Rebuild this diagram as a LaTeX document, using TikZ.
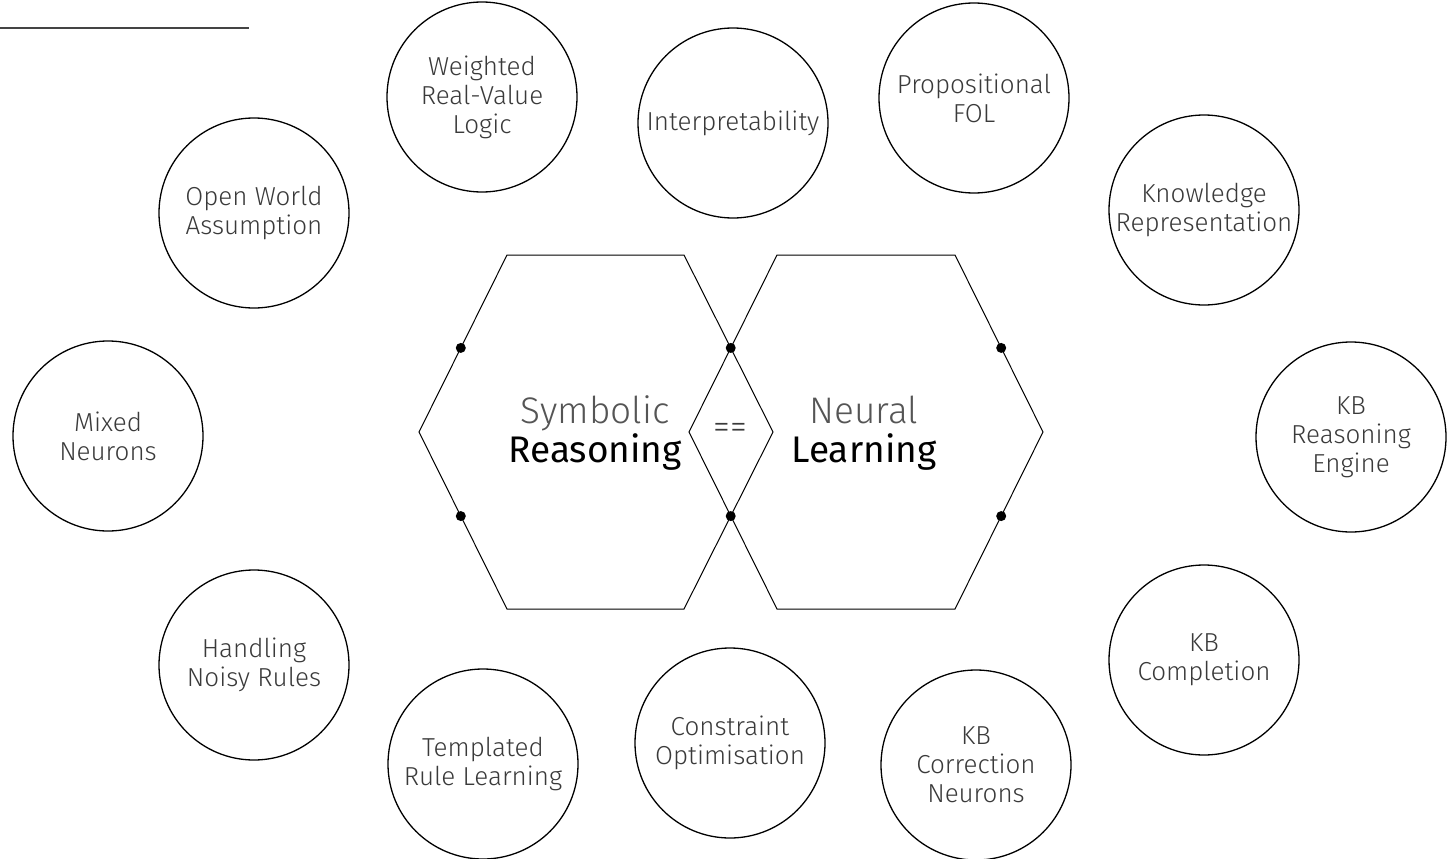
\documentclass[tikz,border=0pt]{standalone}
\usepackage{fontspec}
\IfFontExistsTF{Fira Sans Light}{%
  \setmainfont{Fira Sans Light}}{%
  \IfFontExistsTF{Lato Light}{\setmainfont{Lato Light}}{%
    \IfFontExistsTF{Open Sans Light}{\setmainfont{Open Sans Light}}{\setmainfont{Fira Sans}}}}
\newfontfamily\regface{Fira Sans}
\usetikzlibrary{calc}
\definecolor{txtgray}{HTML}{3A3A3A}
\definecolor{lightgray}{HTML}{555555}
\definecolor{rulegray}{HTML}{444444}
\begin{document}
\begin{tikzpicture}[x=1pt,y=-1pt,
  bubble/.style={draw, circle, line width=1.3pt, minimum size=190pt, inner sep=0pt,
    align=center, text=txtgray, font=\fontsize{26}{29}\selectfont},
  hexline/.style={line width=1pt, line join=miter},
  dotmark/.style={circle, fill=black, inner sep=0pt, minimum size=10pt},
  bigthin/.style={anchor=base, text=lightgray, font=\fontsize{37}{39}\selectfont, inner sep=0pt},
  bigreg/.style={anchor=base, text=black, font=\fontsize{37}{39}\regface, inner sep=0pt},
  eqtext/.style={text=txtgray, font=\fontsize{34}{36}\selectfont, inner sep=0pt}]
\useasboundingbox (0,0) rectangle (1449,859);
\fill[white] (0,0) rectangle (1449,859);

% top-left rule
\coordinate (r1) at (0,28);
\coordinate (r2) at (249,28);
\draw[line width=2pt, rulegray] (r1) -- (r2);

% left hexagon
\coordinate (A1) at (419,432);
\coordinate (A2) at (507,255);
\coordinate (A3) at (684,255);
\coordinate (A4) at (773,432);
\coordinate (A5) at (684,609);
\coordinate (A6) at (507,609);
% right hexagon
\coordinate (B1) at (689,432);
\coordinate (B2) at (777,255);
\coordinate (B3) at (955,255);
\coordinate (B4) at (1043,432);
\coordinate (B5) at (955,609);
\coordinate (B6) at (777,609);

\draw[hexline] (A1) -- (A2) -- (A3) -- (A4) -- (A5) -- (A6) -- cycle;
\draw[hexline] (B1) -- (B2) -- (B3) -- (B4) -- (B5) -- (B6) -- cycle;

% dots
\node[dotmark] (d1) at ($(A1)!0.475!(A2)$) {};
\node[dotmark] (d2) at ($(A1)!0.475!(A6)$) {};
\node[dotmark] (d3) at ($(A3)!0.525!(A4)$) {};
\node[dotmark] (d4) at ($(A5)!0.525!(A4)$) {};
\node[dotmark] (d5) at ($(B4)!0.475!(B3)$) {};
\node[dotmark] (d6) at ($(B4)!0.475!(B5)$) {};

% central texts
\node[bigthin] (sym) at (595,423) {Symbolic};
\node[bigreg] (rea) at (595,462) {Reasoning};
\node[bigthin] (neu) at (864,423) {Neural};
\node[bigreg] (lea) at (864,462) {Learning};
\node[eqtext] (eq) at (730,431) {==};

% bubbles
\node[bubble] (wrv) at (482,97) {Weighted\\Real-Value\\Logic};
\node[bubble] (int) at (733,123) {Interpretability};
\node[bubble] (pfol) at (974,98) {Propositional\\FOL};
\node[bubble] (owa) at (254,213) {Open World\\Assumption};
\node[bubble] (kre) at (1204,210) {Knowledge\\Representation};
\node[bubble] (mix) at (108,436) {Mixed\\Neurons};
\node[bubble] (kbre) at (1351,437) {KB\\Reasoning\\Engine};
\node[bubble] (hnr) at (254,665) {Handling\\Noisy Rules};
\node[bubble] (kbc) at (1204,660) {KB\\Completion};
\node[bubble] (trl) at (483,764) {Templated\\Rule Learning};
\node[bubble] (cop) at (730,743) {Constraint\\Optimisation};
\node[bubble] (kbcn) at (976,765) {KB\\Correction\\Neurons};
\end{tikzpicture}
\end{document}
